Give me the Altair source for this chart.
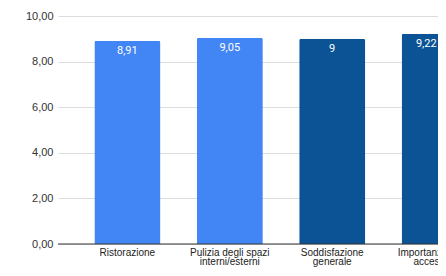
import altair as alt
import pandas as pd

categories = [
    "Ristorazione",
    "Pulizia degli spazi|interni/esterni",
    "Soddisfazione|generale",
    "Importanza degli|accessori",
]
values = [8.91, 9.05, 9.0, 9.22]
value_labels = ["8,91", "9,05", "9", "9,22"]
groups = ["A", "A", "B", "B"]
group_colors = ["#4285F4", "#0B5394"]
y_ticks = [0, 2, 4, 6, 8, 10]

df = pd.DataFrame({
    "cat": categories,
    "val": values,
    "lab": value_labels,
    "grp": groups,
})

xscale = alt.Scale(domain=categories, range=[0, 446], paddingInner=0.355, paddingOuter=0.355)
x = alt.X("cat:N", scale=xscale,
          axis=alt.Axis(title=None, labelAngle=0, ticks=False, domain=False, grid=False,
                        labelExpr="split(datum.label, '|')",
                        labelFont="Liberation Sans", labelFontSize=10, labelColor="#222",
                        labelPadding=3, labelLineHeight=9.5, labelBaseline="top"))
y = alt.Y("val:Q", scale=alt.Scale(domain=[0, 10], nice=False),
          axis=alt.Axis(title=None, values=y_ticks, ticks=False, domain=False,
                        gridColor="#dddddd", gridWidth=1,
                        labelExpr="replace(format(datum.value, '.2f'), '.', ',')",
                        labelFont="Liberation Sans", labelFontSize=11, labelColor="#333",
                        labelPadding=5))

base = alt.Chart(df)
bars = base.mark_bar(cornerRadiusTopLeft=2, cornerRadiusTopRight=2).encode(
    x=x, y=y,
    color=alt.Color("grp:N", scale=alt.Scale(domain=["A", "B"], range=group_colors), legend=None),
)
text_enc = dict(
    x=alt.X("cat:N", scale=xscale),
    y=alt.Y("val:Q"),
    text="lab:N",
)
last = categories[-1]
text = base.transform_filter(alt.datum.cat != last).mark_text(
    color="white", font="Roboto", fontSize=11, baseline="middle", dy=10.5
).encode(**text_enc)
text_last = base.transform_filter(alt.datum.cat == last).mark_text(
    color="white", font="Roboto", fontSize=11, baseline="middle", align="right", dy=10.5, dx=2
).encode(**text_enc)
zero = alt.Chart(pd.DataFrame({"z": [0]})).mark_rule(color="#333333", strokeWidth=1).encode(
    y=alt.Y("z:Q"),
)

chart = alt.layer(bars, zero, text, text_last).properties(
    width=380, height=228,
    background="white",
    autosize=alt.AutoSizeParams(type="none"),
    padding={"left": 50, "top": 8, "right": 0, "bottom": 24},
).configure_view(stroke=None)

chart.save("out.html", embed_options={"renderer": "svg", "actions": False})
